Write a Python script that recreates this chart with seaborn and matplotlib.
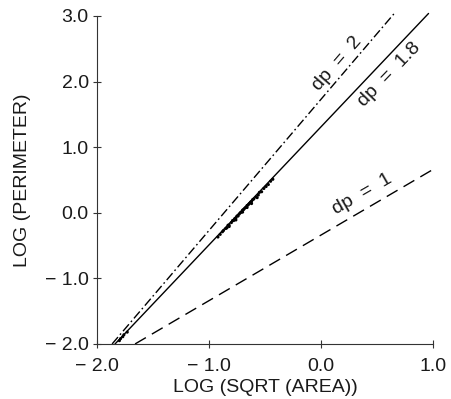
import numpy as np
import pandas as pd
import matplotlib
matplotlib.use("Agg")
import matplotlib.pyplot as plt
import seaborn as sns

# Fractal-dimension reference lines: log(P) = dp * log(sqrt(A)) + c
dp_values = [2.0, 1.8, 1.0]
intercepts = [1.73, 1.31, -0.34]
line_x_start = [-1.865, -1.84, -1.66]
line_x_end = [0.66, 0.96, 1.0]
line_labels = ["dp  =  2", "dp  =  1.8", "dp  =  1"]

# Measured patches (log sqrt area, log perimeter)
pt_x = [-0.92, -0.90, -0.88, -0.87, -0.85, -0.84, -0.83, -0.82, -0.80, -0.79,
        -0.78, -0.77, -0.76, -0.75, -0.74, -0.73, -0.72, -0.71, -0.70, -0.69,
        -0.68, -0.67, -0.66, -0.65, -0.64, -0.63, -0.62, -0.61, -0.60, -0.58,
        -0.56, -0.55, -0.53, -0.51, -0.49, -0.47, -0.45, -0.43,
        -0.82, -0.76, -0.70, -0.66, -0.62, -0.57,
        -1.80, -1.79, -1.77, -1.76, -1.73]
pt_y = [-0.37, -0.33, -0.29, -0.27, -0.24, -0.23, -0.19, -0.19, -0.15, -0.12,
        -0.12, -0.09, -0.08, -0.05, -0.05, -0.02, 0.00, 0.01, 0.04, 0.05,
        0.07, 0.08, 0.11, 0.12, 0.14, 0.16, 0.17, 0.20, 0.21, 0.24,
        0.27, 0.31, 0.32, 0.37, 0.40, 0.43, 0.48, 0.51,
        -0.21, -0.11, 0.01, 0.08, 0.14, 0.23,
        -1.95, -1.92, -1.89, -1.86, -1.82]

x_ticks = [-2.0, -1.0, 0.0, 1.0]
y_ticks = [-2.0, -1.0, 0.0, 1.0, 2.0, 3.0]
x_ticklabels = ["\u2212 2.0", "\u2212 1.0", "0.0", "1.0"]
y_ticklabels = ["\u2212 2.0", "\u2212 1.0", "0.0", "1.0", "2.0", "3.0"]

# label placement (data coords) and rotation
label_x = [0.14, 0.61, 0.37]
label_y = [2.27, 2.10, 0.29]
label_rot = [49, 46, 30]

sns.set_style("white", {"xtick.bottom": True, "ytick.left": True})
plt.rcParams["font.family"] = ["Liberation Sans", "DejaVu Sans"]
plt.rcParams["lines.scale_dashes"] = False

fig = plt.figure(figsize=(4.52, 3.99), dpi=100)
ax = fig.add_axes([0.2146, 0.138, 0.7434, 0.822])

styles = [(0, (6.5, 2.2, 1.2, 2.2)), "-", (0, (9.0, 5.0))]
for m, c, x0, x1, ls in zip(dp_values, intercepts, line_x_start, line_x_end, styles):
    xs = np.array([x0, x1])
    df = pd.DataFrame({"x": xs, "y": m * xs + c})
    sns.lineplot(data=df, x="x", y="y", ax=ax, color="black", linewidth=1.0,
                 linestyle=ls, clip_on=False)

pts = pd.DataFrame({"x": pt_x, "y": pt_y})
sns.scatterplot(data=pts, x="x", y="y", ax=ax, color="black", s=5,
                edgecolor="none")

for txt, lx, ly, rot in zip(line_labels, label_x, label_y, label_rot):
    ax.text(lx, ly, txt, rotation=rot, ha="center", va="center",
            fontsize=14, color="#1a1a1a", rotation_mode="anchor")

ax.set_xlim(-2.0, 1.0)
ax.set_ylim(-2.0, 3.0)
ax.set_xticks(x_ticks)
ax.set_xticklabels(x_ticklabels)
ax.set_yticks(y_ticks)
ax.set_yticklabels(y_ticklabels)
ax.tick_params(direction="inout", length=6, width=0.8, colors="#333333",
               labelsize=14, labelcolor="#1a1a1a")
ax.tick_params(axis="x", pad=7)
ax.tick_params(axis="y", pad=3)

for side in ["top", "right"]:
    ax.spines[side].set_visible(False)
for side in ["left", "bottom"]:
    ax.spines[side].set_color("#333333")
    ax.spines[side].set_linewidth(0.8)

ax.set_xlabel("LOG (SQRT (AREA))", fontsize=14, color="#1a1a1a", labelpad=3)
ax.set_ylabel("LOG (PERIMETER)", fontsize=14, color="#1a1a1a", labelpad=10)

fig.savefig("out.png", dpi=100)
